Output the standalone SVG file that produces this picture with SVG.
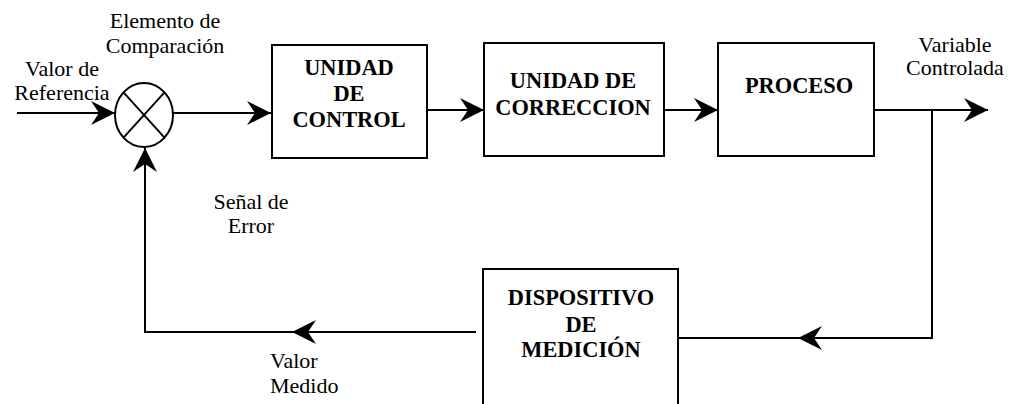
<svg xmlns="http://www.w3.org/2000/svg" width="1013" height="404" viewBox="0 0 1013 404">
<style>
.box{fill:#fff;stroke:#000;stroke-width:2}
.ln{fill:none;stroke:#000;stroke-width:2}
text{font-family:'Liberation Serif','Times New Roman','DejaVu Serif',serif;fill:#000}
.lbl{font-size:22px}
.bl{font-size:22.4px;font-weight:bold;text-anchor:middle}
.c{text-anchor:middle}
</style>
<defs>
<marker id="ah" markerUnits="userSpaceOnUse" markerWidth="26" markerHeight="26" viewBox="-25 -13 26 26" refX="0" refY="0" orient="auto">
<path d="M0,0 L-24,-12 L-16,0 L-24,12 Z" fill="#000"/>
</marker>
</defs>
<rect width="1013" height="404" fill="#fff"/>
<g id="connectors">
<line class="ln" x1="17" y1="113" x2="115" y2="113" marker-end="url(#ah)"/>
<line class="ln" x1="173" y1="113" x2="271" y2="113" marker-end="url(#ah)"/>
<line class="ln" x1="427" y1="110" x2="484" y2="110" marker-end="url(#ah)"/>
<line class="ln" x1="664" y1="110" x2="718" y2="110" marker-end="url(#ah)"/>
<line class="ln" x1="874" y1="110" x2="988" y2="110" marker-end="url(#ah)"/>
<polyline class="ln" points="932,110 932,338 798,338" marker-end="url(#ah)"/>
<line class="ln" x1="798" y1="338" x2="678" y2="338"/>
<line class="ln" x1="476" y1="332" x2="292" y2="332" marker-end="url(#ah)"/>
<polyline class="ln" points="292,332 145,332 145,148" marker-end="url(#ah)"/>
</g>
<g id="comparador">
<ellipse cx="144" cy="115" rx="29" ry="32" class="box"/>
<line class="ln" x1="123.5" y1="92.4" x2="164.5" y2="137.6"/>
<line class="ln" x1="164.5" y1="92.4" x2="123.5" y2="137.6"/>
</g>
<g id="unidad-control">
<rect class="box" x="272" y="45" width="155" height="113"/>
<text class="bl" x="349" y="75">UNIDAD</text>
<text class="bl" x="349" y="101">DE</text>
<text class="bl" x="349" y="127">CONTROL</text>
</g>
<g id="unidad-correccion">
<rect class="box" x="484" y="43" width="180" height="113"/>
<text class="bl" x="573" y="88">UNIDAD DE</text>
<text class="bl" x="573" y="115">CORRECCION</text>
</g>
<g id="proceso">
<rect class="box" x="718" y="43" width="156" height="113"/>
<text class="bl" x="799" y="93">PROCESO</text>
</g>
<g id="dispositivo-medicion">
<rect class="box" x="483" y="269" width="195" height="145"/>
<text class="bl" x="581" y="305">DISPOSITIVO</text>
<text class="bl" x="581" y="332">DE</text>
<text class="bl" x="581" y="357">MEDICIÓN</text>
</g>
<g id="labels">
<text class="lbl c" x="165" y="28">Elemento de</text>
<text class="lbl c" x="165" y="53">Comparación</text>
<text class="lbl c" x="62" y="76">Valor de</text>
<text class="lbl c" x="62" y="100">Referencia</text>
<text class="lbl c" x="955" y="52">Variable</text>
<text class="lbl c" x="955" y="75">Controlada</text>
<text class="lbl c" x="251" y="209">Señal de</text>
<text class="lbl c" x="251" y="233">Error</text>
<text class="lbl" x="270" y="368">Valor</text>
<text class="lbl" x="270" y="393">Medido</text>
</g>
</svg>
